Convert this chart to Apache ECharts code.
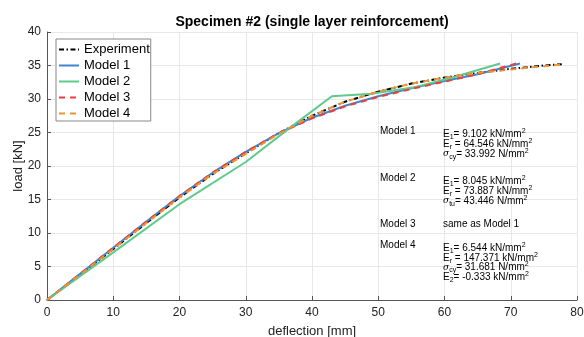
<!DOCTYPE html>
<html>
<head>
<meta charset="utf-8">
<script src="https://cdn.jsdelivr.net/npm/echarts@6/dist/echarts.min.js"></script>
<style>
  html, body { margin: 0; padding: 0; background: #fff; }
  #chart { width: 584px; height: 337px; }
</style>
</head>
<body>
<div id="chart"></div>
<script>
var seriesNames = ['Experiment', 'Model 1', 'Model 2', 'Model 3', 'Model 4'];

// deflection [mm] / load [kN]
var expX = [0, 2, 5, 10, 15, 20, 25, 30, 35, 40, 45, 50, 55, 60, 65, 70, 75, 77.7];
var expY = [0, 1.5, 3.8, 7.6, 11.5, 15.3, 18.8, 21.9, 24.9, 27.5, 29.6, 31.1, 32.3, 33.2, 33.9, 34.5, 35.0, 35.2];

var m1X = [0, 5, 10, 15, 20, 25, 30, 35, 40, 45, 50, 55, 60, 65, 71.4];
var m1Y = [0, 3.9, 7.8, 11.7, 15.5, 19.0, 22.1, 24.9, 27.2, 29.0, 30.4, 31.6, 32.7, 33.7, 35.3];

var m2X = [0, 10, 20, 30, 36.8, 43.0, 49.0, 55.2, 60.8, 68.4];
var m2Y = [0, 7.1, 14.3, 20.6, 25.8, 30.4, 30.8, 31.7, 33.1, 35.3];

var m3X = [0, 5, 10, 15, 20, 25, 30, 35, 40, 45, 50, 55, 60, 65, 71.2];
var m3Y = [0, 3.9, 7.8, 11.7, 15.5, 19.0, 22.1, 24.9, 27.1, 28.9, 30.3, 31.5, 32.6, 33.7, 35.4];

var m4X = [0, 5, 10, 15, 20, 25, 30, 35, 40, 45, 50, 55, 60, 65, 70, 75, 77.5];
var m4Y = [0, 3.8, 7.6, 11.5, 15.3, 18.8, 21.8, 24.8, 27.5, 29.6, 31.1, 32.3, 33.2, 33.9, 34.4, 34.9, 35.1];

function pairs(xs, ys) {
  return xs.map(function (x, i) { return [x, ys[i]]; });
}

var chartDom = document.getElementById('chart');
var myChart = echarts.init(chartDom);

var font = 'Liberation Sans, Arial, Helvetica, sans-serif';
var rich = {
  m: { fontSize: 10, lineHeight: 13, fill: '#000', fontFamily: font },
  g: { fontSize: 9, lineHeight: 13, fill: '#000', fontFamily: 'DejaVu Serif', fontStyle: 'italic' },
  sb: { fontSize: 7, lineHeight: 7, verticalAlign: 'bottom', fill: '#000', fontFamily: font },
  sp: { fontSize: 7, lineHeight: 7, verticalAlign: 'top', fill: '#000', fontFamily: font }
};

function txt(x, y, s) {
  return {
    type: 'text', left: x, top: y - 6.5, z: 100,
    style: { text: s, rich: rich, fill: '#000', font: '10px ' + font }
  };
}

var notes = [
  txt(380, 133, '{m|Model 1}'),
  txt(443, 134, '{m|E}{sb|1}{m|= 9.102 kN/mm}{sp|2}'),
  txt(443, 144, '{m|E}{sb|r}{m| = 64.546 kN/mm}{sp|2}'),
  txt(443, 154, '{g|σ}{sb|cy}{m|= 33.992 N/mm}{sp|2}'),
  txt(380, 180, '{m|Model 2}'),
  txt(443, 181, '{m|E}{sb|1}{m|= 8.045 kN/mm}{sp|2}'),
  txt(443, 191, '{m|E}{sb|r}{m| = 73.887 kN/mm}{sp|2}'),
  txt(443, 201, '{g|σ}{sb|tu}{m|= 43.446 N/mm}{sp|2}'),
  txt(380, 226, '{m|Model 3}'),
  txt(443, 226, '{m|same as Model 1}'),
  txt(380, 247, '{m|Model 4}'),
  txt(443, 248, '{m|E}{sb|1}{m|= 6.544 kN/mm}{sp|2}'),
  txt(443, 258, '{m|E}{sb|r}{m| = 147.371 kN/mm}{sp|2}'),
  txt(443, 267.5, '{g|σ}{sb|cy}{m|= 31.681 N/mm}{sp|2}'),
  txt(443, 277, '{m|E}{sb|2}{m|= -0.333 kN/mm}{sp|2}')
];

var axisCol = '#555';
var option = {
  backgroundColor: '#fff',
  animation: false,
  title: {
    text: 'Specimen #2 (single layer reinforcement)',
    left: 307, top: 10, textAlign: 'center',
    textStyle: { fontFamily: font, fontSize: 14, fontWeight: 'bold', color: '#000' }
  },
  legend: {
    orient: 'vertical',
    left: 56, top: 39,
    data: seriesNames,
    itemWidth: 20, itemHeight: 14, itemGap: 3,
    padding: [4, 1, 1, 2],
    borderColor: '#888', borderWidth: 1,
    backgroundColor: '#fff',
    itemStyle: { opacity: 0 },
    textStyle: { fontFamily: font, fontSize: 13, color: '#000' }
  },
  grid: { left: 47, right: 7, top: 32, bottom: 37, outerBoundsMode: 'none' },
  xAxis: {
    type: 'value', min: 0, max: 80, interval: 10,
    name: 'deflection [mm]', nameLocation: 'middle', nameGap: 25, nameMoveOverlap: false,
    nameTextStyle: { fontFamily: font, fontSize: 13, color: '#222' },
    axisLine: { onZero: false, lineStyle: { color: axisCol } },
    axisTick: { inside: true, length: 4, lineStyle: { color: axisCol } },
    axisLabel: { fontFamily: font, fontSize: 12, color: '#222', margin: 7 },
    splitLine: { show: true, lineStyle: { color: '#e8e8e8' } }
  },
  yAxis: {
    type: 'value', min: 0, max: 40, interval: 5,
    name: 'load [kN]', nameLocation: 'middle', nameGap: 22, nameMoveOverlap: false,
    nameTextStyle: { fontFamily: font, fontSize: 13, color: '#222' },
    axisLine: { show: true, onZero: false, lineStyle: { color: axisCol } },
    axisTick: { show: true, inside: true, length: 4, lineStyle: { color: axisCol } },
    axisLabel: { fontFamily: font, fontSize: 12, color: '#222', margin: 6 },
    splitLine: { show: true, lineStyle: { color: '#e8e8e8' } }
  },
  series: [
    { name: 'Experiment', type: 'line', symbol: 'none', z: 2,
      lineStyle: { color: '#000', width: 2, type: [5, 2.5, 1.5, 2.5] }, itemStyle: { color: '#000' },
      data: pairs(expX, expY) },
    { name: 'Model 1', type: 'line', symbol: 'none', z: 3,
      lineStyle: { color: '#3d87d0', width: 2 }, itemStyle: { color: '#3d87d0' },
      data: pairs(m1X, m1Y) },
    { name: 'Model 2', type: 'line', symbol: 'none', z: 4,
      lineStyle: { color: '#5ccb8c', width: 2 }, itemStyle: { color: '#5ccb8c' },
      data: pairs(m2X, m2Y) },
    { name: 'Model 3', type: 'line', symbol: 'none', z: 5,
      lineStyle: { color: '#f03c3c', width: 2, type: [6, 5] }, itemStyle: { color: '#f03c3c' },
      data: pairs(m3X, m3Y) },
    { name: 'Model 4', type: 'line', symbol: 'none', z: 6,
      lineStyle: { color: '#ea9535', width: 2, type: [6, 5] }, itemStyle: { color: '#ea9535' },
      data: pairs(m4X, m4Y) }
  ],
  graphic: notes
};

myChart.setOption(option);
</script>
</body>
</html>
